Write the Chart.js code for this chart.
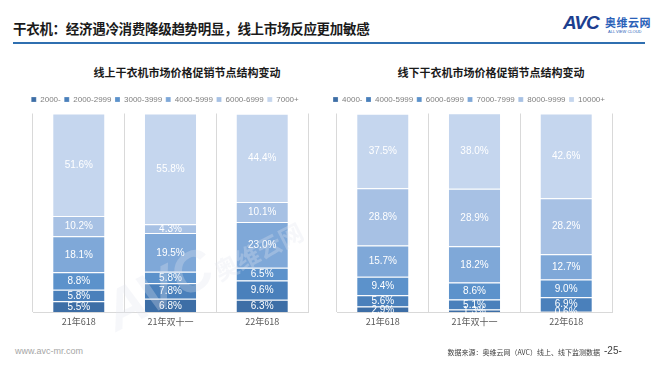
<!DOCTYPE html>
<html><head><meta charset="utf-8">
<script src="https://cdn.jsdelivr.net/npm/chart.js@4.4.1/dist/chart.umd.min.js"></script>
<style>
html,body{margin:0;padding:0;background:#fff;width:660px;height:372px;overflow:hidden;font-family:"Noto Sans CJK SC","Liberation Sans",sans-serif;}
#title{position:absolute;left:13px;top:18px;font-size:13.5px;font-weight:bold;color:#1a1a1a;white-space:nowrap;letter-spacing:-0.3px;}
#rule{position:absolute;left:13px;top:42px;width:632px;height:2px;background:#2f6fb0;}
#logo{position:absolute;left:563px;top:12px;width:90px;height:26px;}
#logo .avc{position:absolute;left:0;top:0;font-family:"Liberation Sans",sans-serif;font-weight:bold;font-style:italic;font-size:19px;color:#1d3f8f;letter-spacing:-1px;}
#logo .cn{position:absolute;left:42px;top:2px;font-size:11px;font-weight:bold;color:#2a61b8;letter-spacing:0.5px;}
#logo .en{position:absolute;left:45px;top:17px;font-family:"Liberation Sans",sans-serif;font-size:4px;color:#2a61b8;}
.ctitle{position:absolute;top:64px;font-size:11px;font-weight:bold;color:#1a1a1a;white-space:nowrap;text-align:center;}
#c1wrap{position:absolute;left:0;top:92px;width:330px;height:239px;}
#c2wrap{position:absolute;left:304px;top:92px;width:330px;height:239px;}
#foot1{position:absolute;left:15px;top:346px;font-family:"Liberation Sans",sans-serif;font-size:9px;color:#a6a6a6;}
#foot2{position:absolute;right:60px;top:347px;font-size:7px;color:#404040;white-space:nowrap;}
#page{position:absolute;left:604px;top:345px;font-family:"Liberation Sans",sans-serif;font-size:10px;color:#404040;}
.wm{position:absolute;white-space:nowrap;color:rgba(225,230,240,0.3);font-weight:bold;transform:rotate(-27deg);transform-origin:left top;pointer-events:none;line-height:1;}
</style></head>
<body>
<div id="title">干衣机：经济遇冷消费降级趋势明显，线上市场反应更加敏感</div>
<div id="rule"></div>
<div id="logo"><span class="avc">AVC</span><span class="cn">奥维云网</span><span class="en">ALL VIEW CLOUD</span></div>
<div class="ctitle" style="left:82px;width:210px;">线上干衣机市场价格促销节点结构变动</div>
<div class="ctitle" style="left:386px;width:210px;">线下干衣机市场价格促销节点结构变动</div>
<div id="c1wrap"><canvas id="c1"></canvas></div>
<div id="c2wrap"><canvas id="c2"></canvas></div>
<div class="wm" style="left:95px;top:290px;font-family:'Liberation Sans',sans-serif;font-style:italic;font-size:56px;">AVC</div>
<div class="wm" style="left:210px;top:262px;font-size:24px;">奥维云网</div>
<div id="foot1">www.avc-mr.com</div>
<div id="foot2">数据来源：奥维云网（AVC）线上、线下监测数据</div>
<div id="page">-25-</div>
<script>
// ---- data ----
const categories = ["21年618", "21年双十一", "22年618"];

const onlineSeries = ["2000-", "2000-2999", "3000-3999", "4000-5999", "6000-6999", "7000+"];
const online_2000minus = [5.5, 6.8, 6.3];
const online_2000_2999 = [5.8, 7.8, 9.6];
const online_3000_3999 = [8.8, 5.8, 6.5];
const online_4000_5999 = [18.1, 19.5, 23.0];
const online_6000_6999 = [10.2, 4.3, 10.1];
const online_7000plus = [51.6, 55.8, 44.4];

const offlineSeries = ["4000-", "4000-5999", "6000-6999", "7000-7999", "8000-9999", "10000+"];
const offline_4000minus = [2.9, 1.3, 0.6];
const offline_4000_5999 = [5.6, 5.1, 6.9];
const offline_6000_6999 = [9.4, 8.6, 9.0];
const offline_7000_7999 = [15.7, 18.2, 12.7];
const offline_8000_9999 = [28.8, 28.9, 28.2];
const offline_10000plus = [37.5, 38.0, 42.6];

const palette = ["#3d6ea6", "#4a80bb", "#5c92cb", "#7fa8d8", "#a7c1e4", "#c5d6ee"];

const labelPlugin = {
  id: 'segLabels',
  afterDatasetsDraw(chart) {
    const ctx = chart.ctx;
    ctx.save();
    ctx.fillStyle = '#ffffff';
    ctx.font = '10px "Liberation Sans", Arial, sans-serif';
    ctx.textAlign = 'center';
    ctx.textBaseline = 'middle';
    chart.data.datasets.forEach((ds, di) => {
      const meta = chart.getDatasetMeta(di);
      meta.data.forEach((bar, i) => {
        const v = ds.data[i];
        const y = (bar.y + bar.base) / 2;
        ctx.fillText(v.toFixed(1) + '%', bar.x, y + 0.5);
      });
    });
    ctx.restore();
  }
};

function makeChart(id, seriesNames, seriesData) {
  return new Chart(document.getElementById(id), {
    type: 'bar',
    data: {
      labels: categories,
      datasets: seriesNames.map((n, k) => ({
        label: n,
        data: seriesData[k],
        backgroundColor: palette[k],
        borderColor: 'rgba(255,255,255,0.85)',
        borderWidth: {top: 1, bottom: 0, left: 0, right: 0},
        borderSkipped: false,
        categoryPercentage: 1,
        barPercentage: 0.56
      }))
    },
    options: {
      responsive: true,
      maintainAspectRatio: false,
      animation: false,
      layout: {padding: 0},
      plugins: {
        legend: {
          position: 'top',
          labels: {
            boxWidth: 5, boxHeight: 5, padding: 3.5,
            color: '#7f7f7f',
            font: {size: 8, family: '"Liberation Sans", Arial, sans-serif'}
          }
        },
        tooltip: {enabled: false},
        title: {display: false}
      },
      scales: {
        x: {
          stacked: true,
          grid: {display: true, offset: true, color: '#d9d9d9', drawTicks: false},
          border: {display: true, color: '#d9d9d9'},
          ticks: {color: '#595959', padding: 4, font: {size: 9, family: '"Noto Sans CJK SC", sans-serif'}}
        },
        y: {
          stacked: true, min: 0, max: 100, position: 'left',
          ticks: {display: false}, grid: {display: false}, border: {display: false},
          afterFit: (s) => { s.width = 33; }
        },
        yR: {
          position: 'right', min: 0, max: 100,
          ticks: {display: false}, grid: {display: false}, border: {display: false},
          afterFit: (s) => { s.width = 22; }
        }
      }
    },
    plugins: [labelPlugin]
  });
}

makeChart('c1', onlineSeries, [online_2000minus, online_2000_2999, online_3000_3999, online_4000_5999, online_6000_6999, online_7000plus]);
makeChart('c2', offlineSeries, [offline_4000minus, offline_4000_5999, offline_6000_6999, offline_7000_7999, offline_8000_9999, offline_10000plus]);
</script>
</body></html>
